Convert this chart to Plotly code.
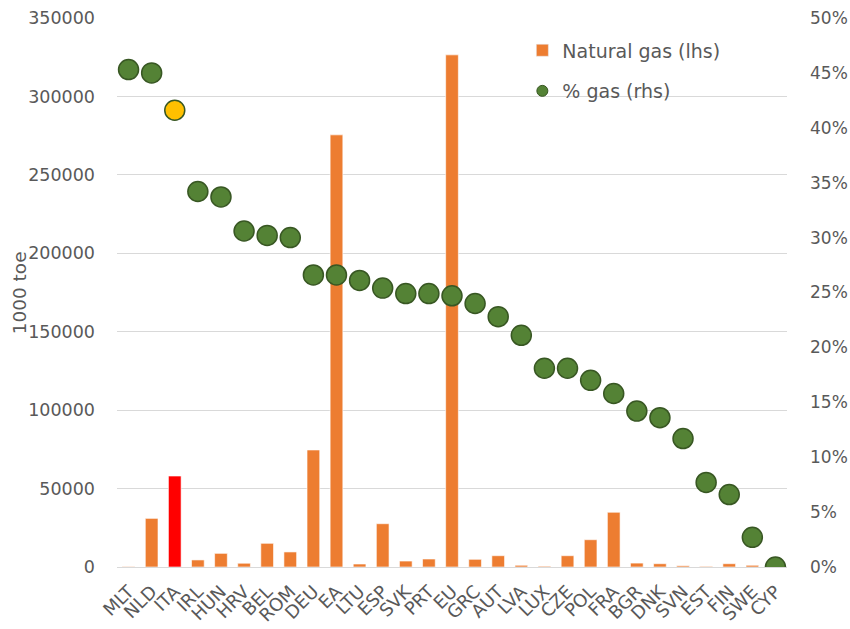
import plotly.graph_objects as go

# Country codes along the x axis
countries = ["MLT", "NLD", "ITA", "IRL", "HUN", "HRV", "BEL", "ROM", "DEU", "EA",
             "LTU", "ESP", "SVK", "PRT", "EU", "GRC", "AUT", "LVA", "LUX", "CZE",
             "POL", "FRA", "BGR", "DNK", "SVN", "EST", "FIN", "SWE", "CYP"]

# Natural gas consumption, 1000 toe (left axis)
natural_gas = [300, 31000, 58000, 4500, 8700, 2400, 15100, 9600, 74600, 275500,
               1900, 27600, 3800, 5100, 326500, 4900, 7200, 1100, 500, 7200,
               17400, 34900, 2500, 2100, 800, 400, 2100, 1100, 0]

# Share of gas in the energy mix, % (right axis)
gas_share = [45.3, 45.0, 41.6, 34.2, 33.7, 30.6, 30.2, 30.0, 26.6, 26.6,
             26.1, 25.4, 24.9, 24.9, 24.7, 24.0, 22.8, 21.1, 18.1, 18.1,
             17.0, 15.8, 14.2, 13.6, 11.7, 7.7, 6.6, 2.7, 0.0]

highlight = "ITA"

ORANGE = "#ED7D31"
RED = "#FF0000"
GREEN = "#548235"
GREEN_EDGE = "#385723"
YELLOW = "#FFC000"
GREY_TEXT = "#595959"
GRID = "#D9D9D9"
FONT = "DejaVu Sans"

bar_colors = [RED if c == highlight else ORANGE for c in countries]
dot_colors = [YELLOW if c == highlight else GREEN for c in countries]

fig = go.Figure()

fig.add_trace(go.Bar(
    x=countries, y=natural_gas, yaxis="y",
    marker=dict(color=bar_colors, line=dict(color="rgba(255,255,255,0.6)", width=1)),
    showlegend=False,
))

fig.add_trace(go.Scatter(
    x=countries, y=gas_share, yaxis="y2", mode="markers",
    marker=dict(size=20, color=dot_colors, line=dict(color=GREEN_EDGE, width=1.5)),
    showlegend=False,
))

# Legend entries (empty series, only used for the legend keys)
fig.add_trace(go.Bar(
    x=[countries[0]], y=[None], name="Natural gas (lhs)",
    marker=dict(color=ORANGE), legend="legend",
))
fig.add_trace(go.Scatter(
    x=[countries[0]], y=[None], yaxis="y2", name="% gas (rhs)", mode="markers",
    marker=dict(size=11, color=GREEN, line=dict(color=GREEN_EDGE, width=1)),
    legend="legend2",
))

legend_style = dict(
    bgcolor="rgba(0,0,0,0)", borderwidth=0,
    font=dict(family=FONT, size=19, color=GREY_TEXT),
    xanchor="left", yanchor="middle",
)

fig.update_layout(
    width=850, height=629,
    margin=dict(l=117, r=63, t=18, b=62, autoexpand=False),
    paper_bgcolor="white", plot_bgcolor="white",
    font=dict(family=FONT, size=17.5, color=GREY_TEXT),
    bargap=0.45, barmode="overlay",
    xaxis=dict(
        type="category", categoryorder="array", categoryarray=countries,
        range=[-0.5, len(countries) - 0.5],
        tickangle=-45, showgrid=False, automargin=False,
        showline=True, linecolor=GRID, linewidth=1,
        ticks="", ticklabelstandoff=6,
        tickfont=dict(family=FONT, size=18, color=GREY_TEXT),
    ),
    yaxis=dict(
        range=[0, 350000], dtick=50000, tickformat="d", automargin=False,
        showgrid=True, gridcolor=GRID, gridwidth=1, zeroline=False,
        ticks="", ticklabelstandoff=21,
        tickfont=dict(family=FONT, size=17.5, color=GREY_TEXT),
    ),
    yaxis2=dict(
        range=[0, 50], dtick=5, ticksuffix="%", automargin=False,
        overlaying="y", side="right", showgrid=False, zeroline=False,
        ticks="", ticklabelstandoff=22,
        tickfont=dict(family=FONT, size=17, color=GREY_TEXT),
    ),
    legend=dict(x=0.605, y=0.941, **legend_style),
    legend2=dict(x=0.605, y=0.867, **legend_style),
    annotations=[dict(
        text="1000 toe", textangle=-90, showarrow=False,
        xref="paper", yref="paper", x=-0.145, y=0.5,
        xanchor="center", yanchor="middle",
        font=dict(family=FONT, size=18.5, color=GREY_TEXT),
    )],
)

fig.write_html("out.html")
